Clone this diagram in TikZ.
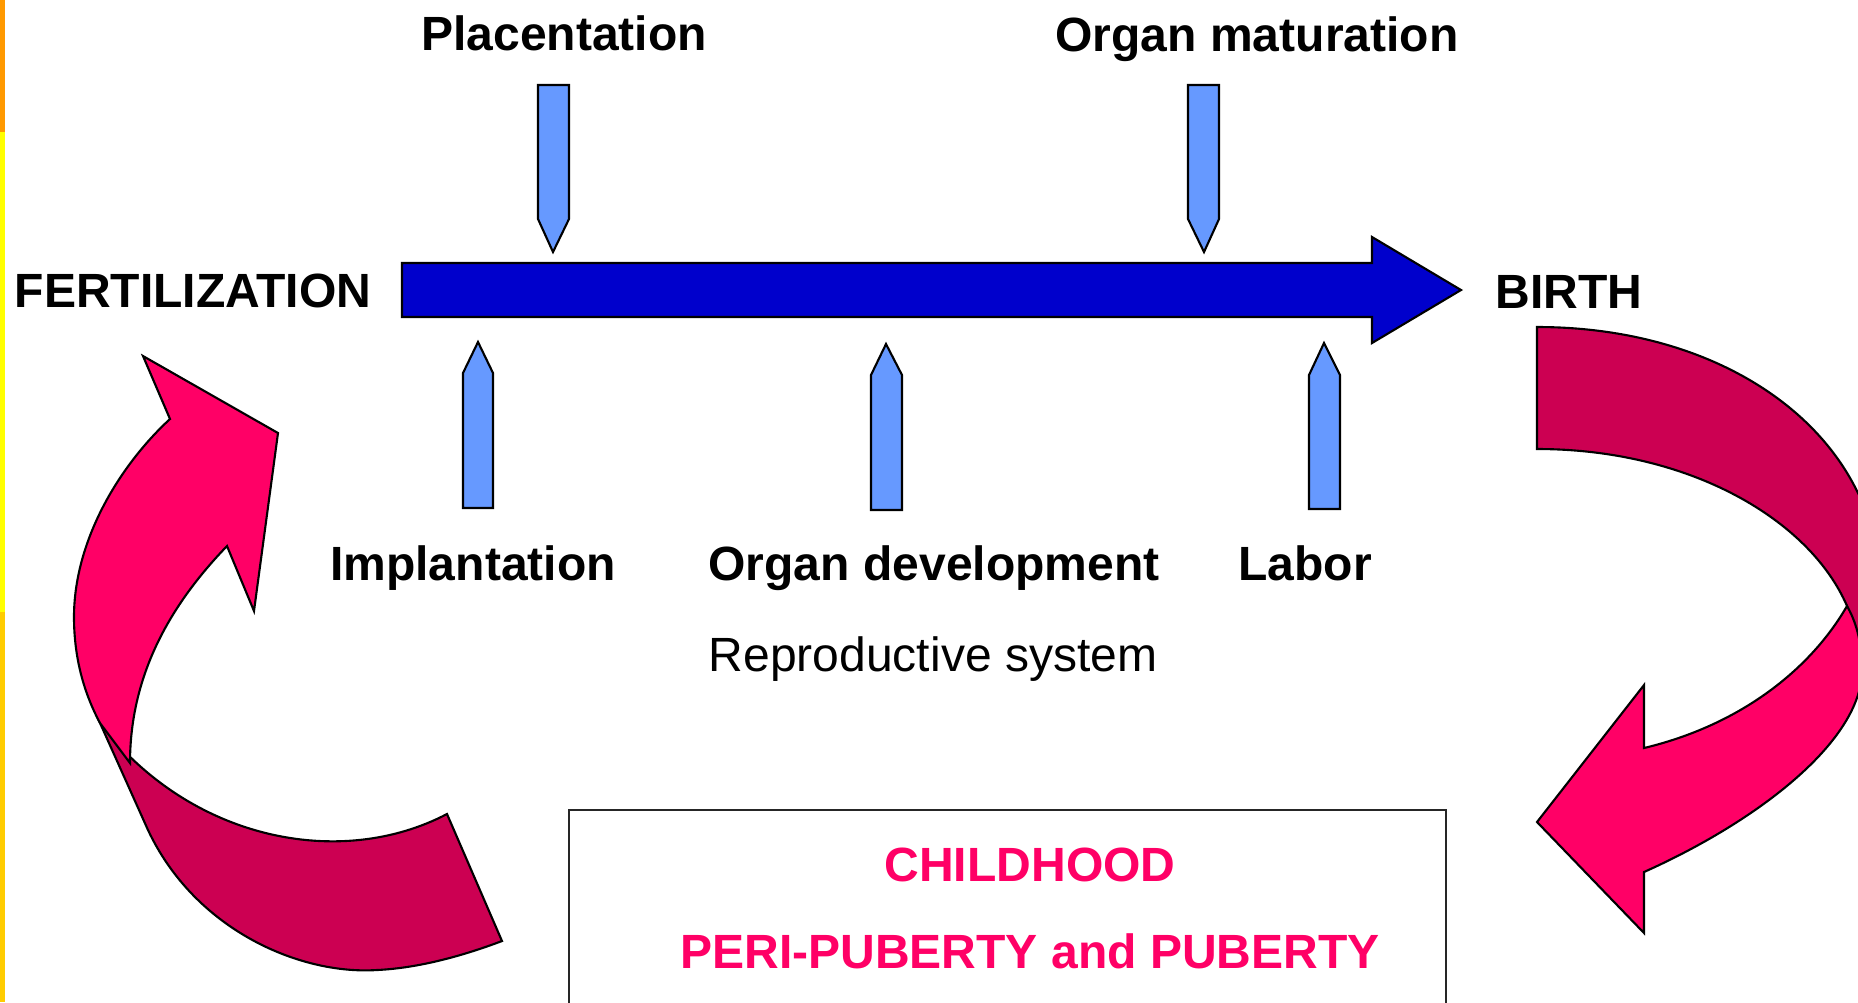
\documentclass[tikz,border=0pt]{standalone}
\usepackage{fontspec}
\setmainfont{Liberation Sans}
\definecolor{mainblue}{HTML}{0000CC}
\definecolor{peg}{HTML}{6699FF}
\definecolor{bandpink}{HTML}{FF0066}
\definecolor{banddark}{HTML}{CC0052}
\definecolor{stripeA}{HTML}{FF9900}
\definecolor{stripeB}{HTML}{FFFF00}
\definecolor{stripeC}{HTML}{FFCC00}
\begin{document}
\begin{tikzpicture}[x=0.01cm,y=-0.01cm,
  outl/.style={draw=black,line width=0.6pt},
  pegbox/.style={outl,fill=peg},
  bandfront/.style={outl,fill=bandpink},
  bandback/.style={outl,fill=banddark},
  lbl/.style={anchor=base,inner sep=0pt,font=\fontsize{13.66pt}{16pt}\selectfont\bfseries},
  lblr/.style={anchor=base,inner sep=0pt,font=\fontsize{13.66pt}{16pt}\selectfont},
  lblp/.style={lbl,text=bandpink}]
\useasboundingbox (0,0) rectangle (1858,1002);
\clip (0,0) rectangle (1858,1002);
\fill[white] (0,0) rectangle (1858,1002);
% left stripe
\fill[stripeA] (0,0) rectangle (5,132);
\fill[stripeB] (0,132) rectangle (5,612);
\fill[stripeC] (0,612) rectangle (5,1002);
% main timeline arrow
\draw[outl,fill=mainblue] (402,263) -- (1372,263) -- (1372,237) -- (1461,290) -- (1372,343) -- (1372,317) -- (402,317) -- cycle;
% pegs from above
\draw[pegbox] (538,85) -- (569,85) -- (569,219) -- (553,252) -- (538,219) -- cycle;
\draw[pegbox] (1188,85) -- (1219,85) -- (1219,219) -- (1204,252) -- (1188,219) -- cycle;
% pegs from below
\draw[pegbox] (463,508) -- (493,508) -- (493,373) -- (478,342) -- (463,373) -- cycle;
\draw[pegbox] (871,510) -- (902,510) -- (902,375) -- (886,344) -- (871,375) -- cycle;
\draw[pegbox] (1309,509) -- (1340,509) -- (1340,375) -- (1324,343) -- (1309,375) -- cycle;
% right curved arrow
\draw[bandback] (1537,327) .. controls (1735,327) and (1880,440) .. (1880,590)
  .. controls (1880,620) and (1870,650) .. (1858,668) -- (1847,606)
  .. controls (1810,520) and (1690,449) .. (1537,449) -- cycle;
\draw[bandfront] (1847,606) .. controls (1810,670) and (1740,725) .. (1644,748)
  -- (1644,685) -- (1537,822) -- (1644,933) -- (1644,872)
  .. controls (1760,820) and (1862,740) .. (1862,670)
  .. controls (1862,640) and (1855,620) .. (1847,606) -- cycle;
% left curved arrow
\draw[bandback] (100,723) .. controls (190,840) and (340,870) .. (447,814) -- (502,941)
  .. controls (465,955) and (420,968) .. (377,970)
  .. controls (300,975) and (195,930) .. (148,830) -- cycle;
\draw[bandfront] (100,723) .. controls (85,695) and (74,660) .. (74,617)
  .. controls (74,540) and (120,465) .. (170,419) -- (143,356) -- (278,433) -- (254,611) -- (227,546)
  .. controls (175,600) and (130,670) .. (130,763) -- cycle;
% box
\draw[draw=black!85,line width=0.7pt] (569,1030) -- (569,810) -- (1446,810) -- (1446,1030);
% labels
\node[lbl] (plac) at (564,50) {Placentation};
\node[lbl] (orgmat) at (1257,51) {Organ maturation};
\node[lbl] (fert) at (193,307) {FERTILIZATION};
\node[lbl] (birth) at (1569,308) {BIRTH};
\node[lbl] (impl) at (473,580) {Implantation};
\node[lbl] (orgdev) at (934,580) {Organ development};
\node[lbl] (labor) at (1305,580) {Labor};
\node[lblr] (repro) at (933,671) {Reproductive system};
\node[lblp] (child) at (1030,881) {CHILDHOOD};
\node[lblp] (peri) at (1030,968) {PERI-PUBERTY and PUBERTY};
\end{tikzpicture}
\end{document}
